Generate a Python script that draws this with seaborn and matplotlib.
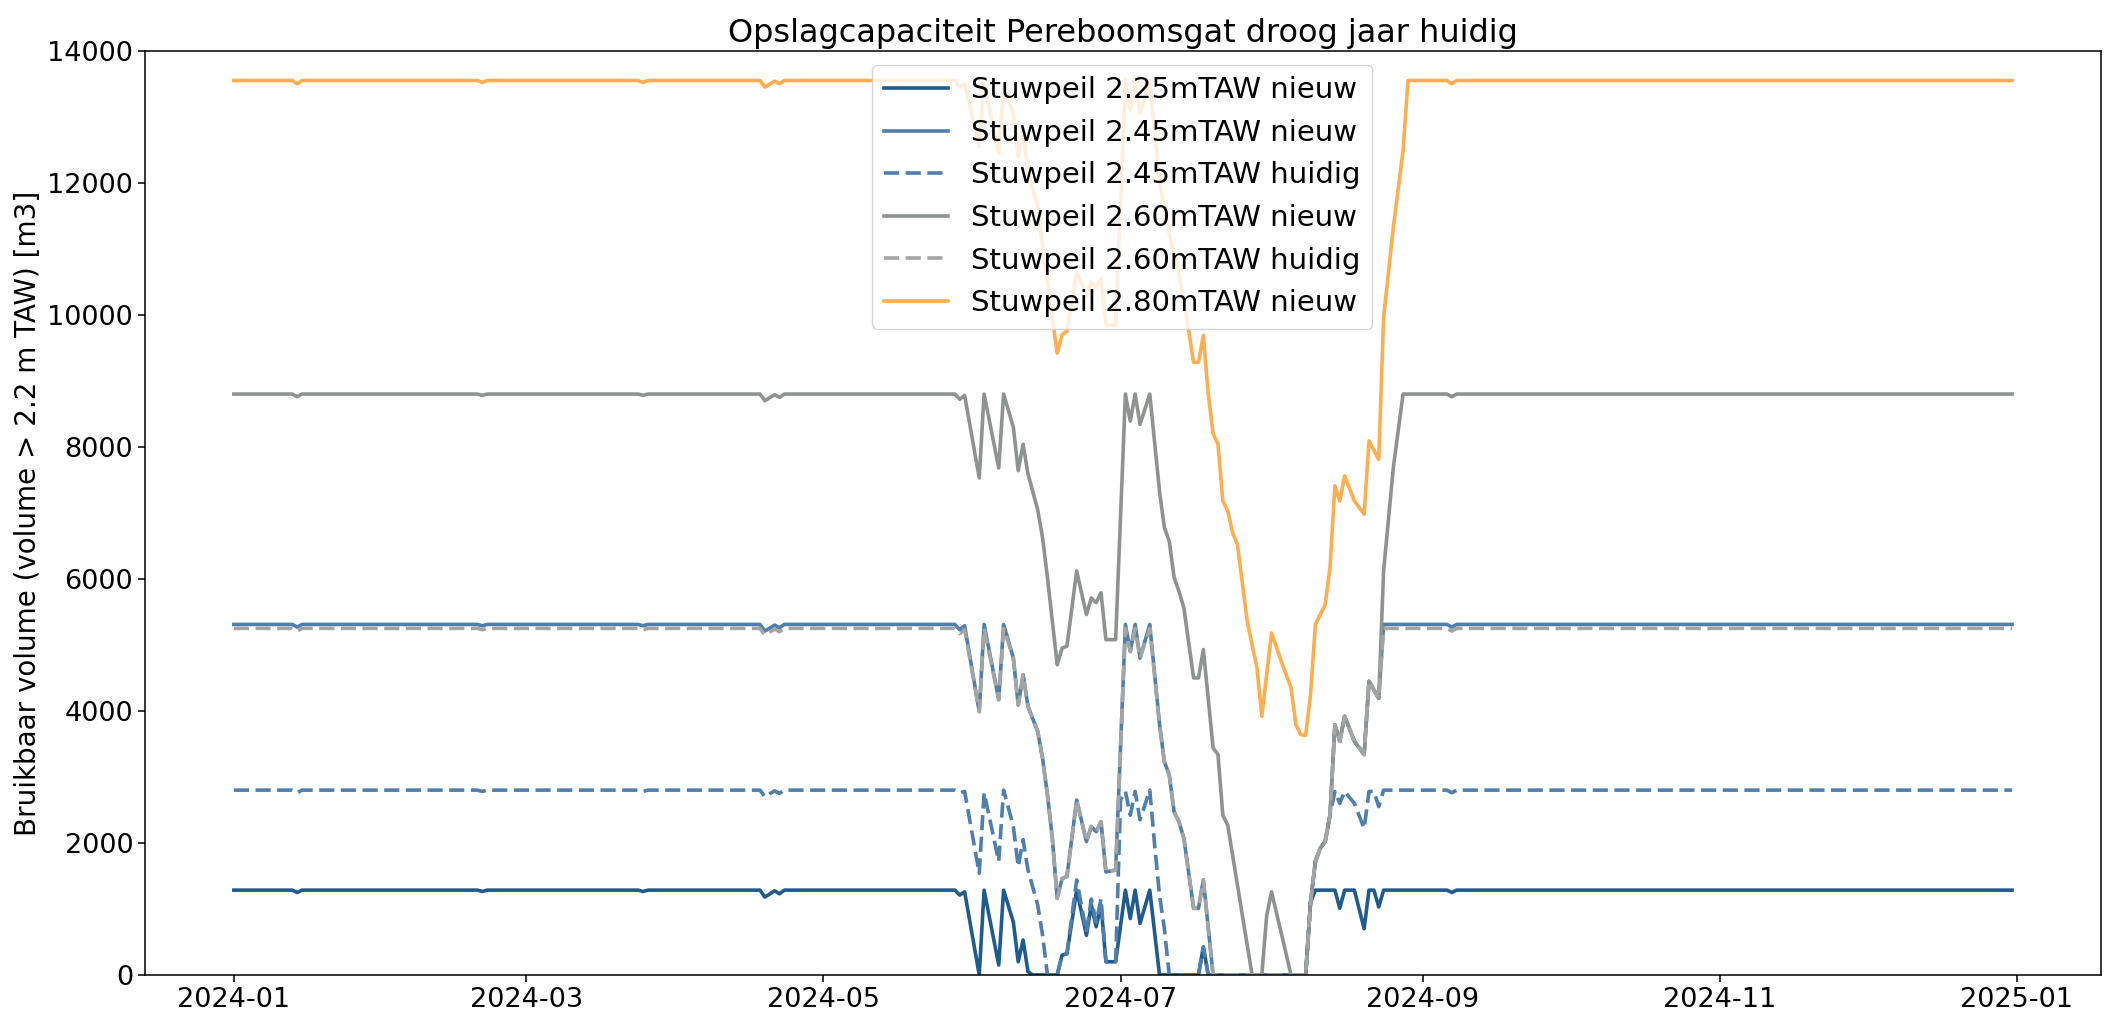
import pandas as pd
import matplotlib.pyplot as plt
import seaborn as sns

# ===================== DATA =====================
# flat part before the dry period (same dates for every series)
pre_dates = ["2024-01-01", "2024-01-13", "2024-01-14", "2024-01-15",
             "2024-02-20", "2024-02-21", "2024-02-22",
             "2024-03-24", "2024-03-25", "2024-03-26",
             "2024-04-18", "2024-04-19", "2024-04-21", "2024-04-22", "2024-04-23",
             "2024-05-28", "2024-05-29", "2024-05-30"]
post_dates = ["2024-09-06", "2024-09-07", "2024-09-08", "2024-12-31"]

# Stuwpeil 2.25mTAW nieuw
d225_dates = ["2024-06-02", "2024-06-03", "2024-06-06", "2024-06-07", "2024-06-09",
              "2024-06-10", "2024-06-11", "2024-06-12", "2024-06-13", "2024-06-18",
              "2024-06-19", "2024-06-20", "2024-06-22", "2024-06-24", "2024-06-25",
              "2024-06-26", "2024-06-27", "2024-06-28", "2024-06-30", "2024-07-02",
              "2024-07-03", "2024-07-04", "2024-07-05", "2024-07-07", "2024-07-09",
              "2024-07-17", "2024-07-18", "2024-07-19", "2024-08-08", "2024-08-09",
              "2024-08-10", "2024-08-14", "2024-08-15", "2024-08-16", "2024-08-18",
              "2024-08-20", "2024-08-21", "2024-08-22", "2024-08-23", "2024-08-24"]
pre_225 = [1285, 1285, 1250, 1285, 1285, 1265, 1285, 1285, 1265, 1285,
           1285, 1180, 1275, 1230, 1285, 1285, 1210, 1260]
d225_vals = [0, 1285, 150, 1285, 800, 200, 530, 50, 0, 0,
             300, 320, 1285, 600, 1060, 730, 1060, 200, 200, 1285,
             855, 1285, 780, 1285, 0, 0, 425, 0, 0, 1100,
             1285, 1285, 1010, 1285, 1285, 700, 1285, 1285, 1030, 1285]
post_225 = [1285, 1250, 1285, 1285]

# Stuwpeil 2.45mTAW nieuw
d245n_dates = ["2024-06-02", "2024-06-03", "2024-06-06", "2024-06-07", "2024-06-09",
               "2024-06-10", "2024-06-11", "2024-06-12", "2024-06-14", "2024-06-15",
               "2024-06-16", "2024-06-17", "2024-06-18", "2024-06-19", "2024-06-20",
               "2024-06-22", "2024-06-24", "2024-06-25", "2024-06-26", "2024-06-27",
               "2024-06-28", "2024-06-30", "2024-07-02", "2024-07-03", "2024-07-04",
               "2024-07-05", "2024-07-07", "2024-07-09", "2024-07-10", "2024-07-11",
               "2024-07-12", "2024-07-13", "2024-07-14", "2024-07-16", "2024-07-17",
               "2024-07-18", "2024-07-20", "2024-08-08", "2024-08-09", "2024-08-10",
               "2024-08-11", "2024-08-12", "2024-08-13", "2024-08-14", "2024-08-15",
               "2024-08-16", "2024-08-18", "2024-08-20", "2024-08-21", "2024-08-23",
               "2024-08-24"]
pre_245n = [5310, 5310, 5270, 5310, 5310, 5290, 5310, 5310, 5290, 5310,
            5310, 5210, 5300, 5260, 5310, 5310, 5230, 5290]
d245n_vals = [3990, 5310, 4170, 5310, 4800, 4090, 4550, 4070, 3690, 3280,
              2730, 2070, 1160, 1460, 1490, 2650, 2020, 2250, 2170, 2320,
              1560, 1590, 5310, 4900, 5310, 4800, 5310, 3800, 3230, 3030,
              2470, 2320, 2070, 1010, 1010, 1440, 0, 0, 1100, 1720,
              1920, 2020, 2420, 3790, 3540, 3920, 3540, 3340, 4450, 4190,
              5310]
post_245n = [5310, 5270, 5310, 5310]

# Stuwpeil 2.45mTAW huidig
d245h_dates = ["2024-06-02", "2024-06-03", "2024-06-06", "2024-06-07", "2024-06-09",
               "2024-06-10", "2024-06-11", "2024-06-12", "2024-06-14", "2024-06-15",
               "2024-06-16", "2024-06-18", "2024-06-19", "2024-06-20", "2024-06-22",
               "2024-06-24", "2024-06-25", "2024-06-26", "2024-06-27", "2024-06-28",
               "2024-06-30", "2024-07-01", "2024-07-02", "2024-07-03", "2024-07-04",
               "2024-07-05", "2024-07-07", "2024-07-08", "2024-07-09", "2024-07-10",
               "2024-07-11", "2024-07-17", "2024-07-18", "2024-07-19", "2024-08-08",
               "2024-08-09", "2024-08-10", "2024-08-11", "2024-08-12", "2024-08-13",
               "2024-08-14", "2024-08-15", "2024-08-16", "2024-08-18", "2024-08-20",
               "2024-08-21", "2024-08-22", "2024-08-23", "2024-08-24"]
pre_245h = [2800, 2800, 2760, 2800, 2800, 2780, 2800, 2800, 2780, 2800,
            2800, 2700, 2790, 2750, 2800, 2800, 2760, 2780]
d245h_vals = [1540, 2760, 1720, 2800, 2250, 1640, 2050, 1590, 1060, 600,
              0, 0, 300, 330, 1440, 650, 1150, 800, 1150, 200,
              200, 2650, 2780, 2420, 2780, 2350, 2800, 1970, 1210, 700,
              0, 0, 420, 0, 0, 1100, 1720, 1920, 2020, 2420,
              2780, 2600, 2780, 2600, 2220, 2780, 2780, 2550, 2800]
post_245h = [2800, 2760, 2800, 2800]

# Stuwpeil 2.60mTAW nieuw
d260n_dates = ["2024-06-02", "2024-06-03", "2024-06-06", "2024-06-07", "2024-06-09",
               "2024-06-10", "2024-06-11", "2024-06-12", "2024-06-14", "2024-06-15",
               "2024-06-16", "2024-06-17", "2024-06-18", "2024-06-19", "2024-06-20",
               "2024-06-22", "2024-06-24", "2024-06-25", "2024-06-26", "2024-06-27",
               "2024-06-28", "2024-06-30", "2024-07-02", "2024-07-03", "2024-07-04",
               "2024-07-05", "2024-07-07", "2024-07-09", "2024-07-10", "2024-07-11",
               "2024-07-12", "2024-07-13", "2024-07-14", "2024-07-16", "2024-07-17",
               "2024-07-18", "2024-07-20", "2024-07-21", "2024-07-22", "2024-07-23",
               "2024-07-28", "2024-07-30", "2024-07-31", "2024-08-01", "2024-08-05",
               "2024-08-08", "2024-08-09", "2024-08-10", "2024-08-11", "2024-08-12",
               "2024-08-13", "2024-08-14", "2024-08-15", "2024-08-16", "2024-08-18",
               "2024-08-20", "2024-08-21", "2024-08-23", "2024-08-24", "2024-08-26",
               "2024-08-28"]
pre_260n = [8800, 8800, 8760, 8800, 8800, 8780, 8800, 8800, 8780, 8800,
            8800, 8700, 8790, 8750, 8800, 8800, 8720, 8780]
d260n_vals = [7530, 8800, 7680, 8800, 8300, 7640, 8040, 7590, 7050, 6620,
              6020, 5360, 4700, 4950, 4980, 6120, 5460, 5710, 5640, 5790,
              5080, 5080, 8800, 8390, 8800, 8340, 8800, 7330, 6780, 6570,
              6020, 5810, 5560, 4500, 4500, 4930, 3440, 3340, 2420, 2270,
              0, 0, 900, 1260, 0, 0, 1100, 1720, 1920, 2020,
              2420, 3790, 3540, 3920, 3540, 3340, 4450, 4190, 6120, 7690,
              8800]
post_260n = [8800, 8760, 8800, 8800]

# Stuwpeil 2.60mTAW huidig
d260h_dates = d245n_dates
pre_260h = [5250, 5250, 5210, 5250, 5250, 5230, 5250, 5250, 5230, 5250,
            5250, 5150, 5240, 5200, 5250, 5250, 5170, 5230]
d260h_vals = [3990, 5250, 4170, 5250, 4800, 4090, 4550, 4070, 3690, 3280,
              2730, 2070, 1160, 1460, 1490, 2650, 2020, 2250, 2170, 2320,
              1560, 1590, 5250, 4900, 5250, 4800, 5250, 3800, 3230, 3030,
              2470, 2320, 2070, 1010, 1010, 1440, 0, 0, 1100, 1720,
              1920, 2020, 2420, 3790, 3540, 3920, 3540, 3340, 4450, 4190,
              5250]
post_260h = [5250, 5210, 5250, 5250]

# Stuwpeil 2.80mTAW nieuw
d280_dates = ["2024-06-02", "2024-06-03", "2024-06-06", "2024-06-07", "2024-06-09",
              "2024-06-10", "2024-06-11", "2024-06-12", "2024-06-14", "2024-06-15",
              "2024-06-16", "2024-06-17", "2024-06-18", "2024-06-19", "2024-06-20",
              "2024-06-22", "2024-06-24", "2024-06-25", "2024-06-26", "2024-06-27",
              "2024-06-28", "2024-06-30", "2024-07-02", "2024-07-03", "2024-07-04",
              "2024-07-05", "2024-07-07", "2024-07-09", "2024-07-11", "2024-07-13",
              "2024-07-15", "2024-07-16", "2024-07-17", "2024-07-18", "2024-07-19",
              "2024-07-20", "2024-07-21", "2024-07-22", "2024-07-23", "2024-07-24",
              "2024-07-25", "2024-07-27", "2024-07-29", "2024-07-30", "2024-08-01",
              "2024-08-03", "2024-08-05", "2024-08-06", "2024-08-07", "2024-08-08",
              "2024-08-09", "2024-08-10", "2024-08-11", "2024-08-12", "2024-08-13",
              "2024-08-14", "2024-08-15", "2024-08-16", "2024-08-18", "2024-08-20",
              "2024-08-21", "2024-08-23", "2024-08-24", "2024-08-26", "2024-08-28",
              "2024-08-29"]
pre_280 = [13550, 13550, 13500, 13550, 13550, 13520, 13550, 13550, 13520, 13550,
           13550, 13450, 13540, 13500, 13550, 13550, 13450, 13500]
d280_vals = [12550, 13500, 12450, 13450, 13050, 12400, 12800, 12150, 11650, 11050,
             10500, 9950, 9420, 9700, 9750, 10650, 10300, 10500, 10420, 10550,
             9850, 9840, 13550, 13100, 13550, 13050, 13550, 12000, 11230, 10620,
             9760, 9280, 9280, 9690, 8800, 8200, 8040, 7180, 7030, 6700,
             6520, 5360, 4650, 3920, 5180, 4750, 4350, 3790, 3640, 3630,
             4250, 5310, 5460, 5610, 6170, 7410, 7180, 7560, 7180, 6980,
             8090, 7810, 9960, 11330, 12490, 13550]
post_280 = [13550, 13500, 13550, 13550]

series = [
    ("Stuwpeil 2.25mTAW nieuw", d225_dates, pre_225, d225_vals, post_225, "#1f5b8e", "-"),
    ("Stuwpeil 2.45mTAW nieuw", d245n_dates, pre_245n, d245n_vals, post_245n, "#4f7fab", "-"),
    ("Stuwpeil 2.45mTAW huidig", d245h_dates, pre_245h, d245h_vals, post_245h, "#4f7fab", (0, (4.2, 1.8))),
    ("Stuwpeil 2.60mTAW nieuw", d260n_dates, pre_260n, d260n_vals, post_260n, "#8f9390", "-"),
    ("Stuwpeil 2.60mTAW huidig", d260h_dates, pre_260h, d260h_vals, post_260h, "#a2a5a3", (0, (4.2, 1.8))),
    ("Stuwpeil 2.80mTAW nieuw", d280_dates, pre_280, d280_vals, post_280, "#ffae4f", "-"),
]

# ===================== PLOT =====================
plt.rcParams["font.family"] = ["DejaVu Sans"]
plt.rcParams["font.size"] = 19.5

fig, ax = plt.subplots(figsize=(21.19, 10.16), dpi=100)

for label, dates, pre, drought, post, color, ls in series:
    df = pd.DataFrame({
        "datum": pd.to_datetime(pre_dates + dates + post_dates),
        "volume": pre + drought + post,
    })
    sns.lineplot(data=df, x="datum", y="volume", ax=ax, color=color,
                 linewidth=2.6, linestyle=ls, label=label)

ax.set_ylim(0, 14000)
ax.set_xlabel("")
ax.set_ylabel("Bruikbaar volume (volume > 2.2 m TAW) [m3]", fontsize=20)
ax.set_title("Opslagcapaciteit Pereboomsgat droog jaar huidig", fontsize=23)
ax.tick_params(labelsize=19.5, length=5, width=1.1)
for sp in ax.spines.values():
    sp.set_linewidth(1.1)

ax.legend(loc="upper left", bbox_to_anchor=(0.3717, 0.985), borderaxespad=0,
          fontsize=21, handlelength=2.2)

fig.subplots_adjust(left=0.0684, right=0.9915, top=0.950, bottom=0.0404)
fig.savefig("out.png", dpi=100)
